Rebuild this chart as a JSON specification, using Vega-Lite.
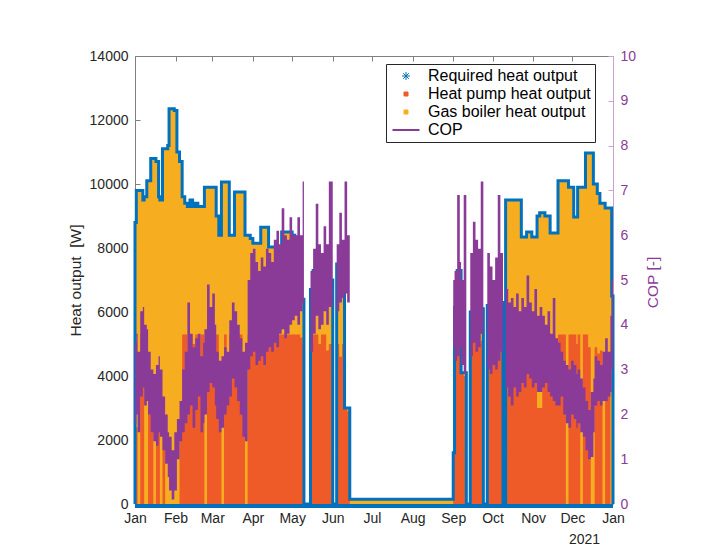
{
  "$schema": "https://vega.github.io/schema/vega-lite/v6.json",
  "width": 478,
  "height": 448,
  "autosize": {"type": "none"},
  "padding": {"left": 135, "top": 56, "right": 91, "bottom": 53},
  "background": "white",
  "config": {
    "view": {"stroke": "#808080", "strokeWidth": 1},
    "font": "Liberation Sans",
    "axis": {"grid": false, "labelFont": "Liberation Sans", "titleFont": "Liberation Sans", "labelFontSize": 14, "titleFontSize": 15.5, "titleFontWeight": "normal", "labelColor": "#262626", "titleColor": "#262626"},
    "axisX": {"labelOverlap": false, "labelFlush": false, "labelSeparation": 0}
  },
  "data": {"values": [
    {"d":"2021-01-01","r":0,"h":0,"lo":0,"hi":0},
    {"d":"2021-01-01","r":8800,"h":2400,"lo":1.8,"hi":3.6},
    {"d":"2021-01-02","r":9800,"h":2400,"lo":2.0,"hi":3.8},
    {"d":"2021-01-03","r":9800,"h":0,"lo":1.6,"hi":3.4},
    {"d":"2021-01-05","r":9800,"h":5300,"lo":2.4,"hi":4.3},
    {"d":"2021-01-07","r":9500,"h":5300,"lo":2.6,"hi":4.4},
    {"d":"2021-01-08","r":9600,"h":0,"lo":2.2,"hi":4.0},
    {"d":"2021-01-10","r":10100,"h":0,"lo":2.3,"hi":3.9},
    {"d":"2021-01-11","r":10100,"h":3000,"lo":2.0,"hi":3.4},
    {"d":"2021-01-13","r":10800,"h":3000,"lo":1.6,"hi":3.0},
    {"d":"2021-01-15","r":10800,"h":0,"lo":1.4,"hi":2.9},
    {"d":"2021-01-17","r":10700,"h":2400,"lo":1.3,"hi":3.1},
    {"d":"2021-01-19","r":9600,"h":2400,"lo":1.6,"hi":3.3},
    {"d":"2021-01-20","r":9500,"h":0,"lo":1.5,"hi":3.0},
    {"d":"2021-01-22","r":11100,"h":2300,"lo":1.2,"hi":2.4},
    {"d":"2021-01-24","r":11100,"h":0,"lo":0.9,"hi":2.0},
    {"d":"2021-01-26","r":11200,"h":0,"lo":0.6,"hi":1.6},
    {"d":"2021-01-27","r":12350,"h":0,"lo":0.3,"hi":1.5},
    {"d":"2021-01-29","r":12350,"h":0,"lo":0.1,"hi":1.2},
    {"d":"2021-01-31","r":12300,"h":0,"lo":0.3,"hi":1.6},
    {"d":"2021-02-02","r":11000,"h":0,"lo":1.0,"hi":1.9},
    {"d":"2021-02-04","r":10700,"h":2400,"lo":1.4,"hi":2.3},
    {"d":"2021-02-06","r":9600,"h":5300,"lo":1.6,"hi":3.0},
    {"d":"2021-02-08","r":9400,"h":5300,"lo":1.8,"hi":3.4},
    {"d":"2021-02-10","r":9300,"h":3500,"lo":2.0,"hi":4.5},
    {"d":"2021-02-12","r":9500,"h":5300,"lo":2.2,"hi":3.8},
    {"d":"2021-02-14","r":9300,"h":5000,"lo":1.7,"hi":3.5},
    {"d":"2021-02-16","r":9400,"h":5300,"lo":2.1,"hi":3.7},
    {"d":"2021-02-18","r":9300,"h":4500,"lo":2.4,"hi":3.8},
    {"d":"2021-02-20","r":9300,"h":5300,"lo":1.6,"hi":3.3},
    {"d":"2021-02-22","r":9300,"h":5300,"lo":1.8,"hi":3.6},
    {"d":"2021-02-23","r":9900,"h":0,"lo":2.0,"hi":3.9},
    {"d":"2021-02-25","r":9900,"h":5300,"lo":2.5,"hi":4.9},
    {"d":"2021-02-27","r":9900,"h":5300,"lo":2.7,"hi":4.4},
    {"d":"2021-03-01","r":9900,"h":5000,"lo":2.6,"hi":4.7},
    {"d":"2021-03-03","r":9900,"h":5300,"lo":2.2,"hi":4.0},
    {"d":"2021-03-04","r":9000,"h":5300,"lo":1.9,"hi":3.4},
    {"d":"2021-03-06","r":8400,"h":4000,"lo":1.6,"hi":3.2},
    {"d":"2021-03-08","r":10060,"h":0,"lo":1.7,"hi":3.3},
    {"d":"2021-03-10","r":10060,"h":5300,"lo":2.0,"hi":3.5},
    {"d":"2021-03-12","r":10060,"h":4700,"lo":2.2,"hi":3.4},
    {"d":"2021-03-14","r":8400,"h":5300,"lo":2.4,"hi":4.1},
    {"d":"2021-03-16","r":8400,"h":5300,"lo":2.8,"hi":4.5},
    {"d":"2021-03-18","r":9750,"h":5000,"lo":2.6,"hi":4.3},
    {"d":"2021-03-20","r":9750,"h":5300,"lo":2.3,"hi":4.0},
    {"d":"2021-03-22","r":9750,"h":5300,"lo":2.0,"hi":3.7},
    {"d":"2021-03-24","r":9750,"h":4400,"lo":1.5,"hi":3.4},
    {"d":"2021-03-26","r":8400,"h":0,"lo":1.4,"hi":3.6},
    {"d":"2021-03-28","r":8400,"h":5300,"lo":3.0,"hi":5.0},
    {"d":"2021-03-30","r":8300,"h":5300,"lo":3.3,"hi":5.6},
    {"d":"2021-04-01","r":8150,"h":5300,"lo":3.4,"hi":5.7},
    {"d":"2021-04-03","r":8150,"h":5300,"lo":3.1,"hi":5.4},
    {"d":"2021-04-05","r":8150,"h":5300,"lo":3.2,"hi":5.2},
    {"d":"2021-04-07","r":8650,"h":5300,"lo":3.3,"hi":5.5},
    {"d":"2021-04-09","r":8650,"h":5300,"lo":3.1,"hi":5.3},
    {"d":"2021-04-11","r":8650,"h":5300,"lo":3.4,"hi":5.7},
    {"d":"2021-04-13","r":8030,"h":5300,"lo":3.5,"hi":5.6},
    {"d":"2021-04-15","r":8030,"h":5300,"lo":3.4,"hi":5.4},
    {"d":"2021-04-17","r":8030,"h":5300,"lo":3.6,"hi":5.9},
    {"d":"2021-04-19","r":8030,"h":5300,"lo":3.5,"hi":6.1},
    {"d":"2021-04-21","r":8030,"h":5300,"lo":3.8,"hi":5.8},
    {"d":"2021-04-23","r":8500,"h":5300,"lo":3.9,"hi":6.6},
    {"d":"2021-04-25","r":8500,"h":5300,"lo":3.7,"hi":6.0},
    {"d":"2021-04-27","r":8500,"h":5300,"lo":3.8,"hi":5.9},
    {"d":"2021-04-29","r":8500,"h":5300,"lo":4.0,"hi":6.4},
    {"d":"2021-05-01","r":8400,"h":5300,"lo":4.1,"hi":6.0},
    {"d":"2021-05-03","r":6400,"h":5300,"lo":4.2,"hi":6.0},
    {"d":"2021-05-05","r":6400,"h":5300,"lo":4.0,"hi":6.4},
    {"d":"2021-05-07","r":6400,"h":5200,"lo":4.3,"hi":6.0},
    {"d":"2021-05-09","r":6400,"h":5000,"lo":4.5,"hi":7.2},
    {"d":"2021-05-10","r":0,"h":0,"lo":0,"hi":0},
    {"d":"2021-05-15","r":6700,"h":5000,"lo":3.4,"hi":5.2},
    {"d":"2021-05-17","r":7300,"h":5300,"lo":3.8,"hi":5.7},
    {"d":"2021-05-19","r":7300,"h":5300,"lo":4.2,"hi":6.7},
    {"d":"2021-05-21","r":7000,"h":5000,"lo":3.9,"hi":5.8},
    {"d":"2021-05-23","r":7400,"h":5300,"lo":4.0,"hi":5.6},
    {"d":"2021-05-25","r":7500,"h":5300,"lo":4.3,"hi":6.2},
    {"d":"2021-05-27","r":7200,"h":4800,"lo":4.0,"hi":5.8},
    {"d":"2021-05-29","r":7000,"h":5000,"lo":4.4,"hi":7.2},
    {"d":"2021-06-01","r":0,"h":0,"lo":0,"hi":0},
    {"d":"2021-06-04","r":7500,"h":5000,"lo":4.3,"hi":5.8},
    {"d":"2021-06-06","r":7500,"h":4600,"lo":4.5,"hi":6.5},
    {"d":"2021-06-08","r":7500,"h":5000,"lo":4.6,"hi":5.9},
    {"d":"2021-06-10","r":3000,"h":3000,"lo":4.7,"hi":7.2},
    {"d":"2021-06-12","r":3000,"h":2900,"lo":4.5,"hi":6.0},
    {"d":"2021-06-14","r":150,"h":0,"lo":0,"hi":0},
    {"d":"2021-09-01","r":1600,"h":1600,"lo":3.5,"hi":5.0},
    {"d":"2021-09-02","r":6150,"h":5100,"lo":3.2,"hi":5.2},
    {"d":"2021-09-04","r":7300,"h":5300,"lo":3.3,"hi":6.9},
    {"d":"2021-09-06","r":7300,"h":5300,"lo":3.5,"hi":5.4},
    {"d":"2021-09-07","r":4100,"h":4100,"lo":3.1,"hi":5.0},
    {"d":"2021-09-09","r":4100,"h":4000,"lo":2.9,"hi":6.9},
    {"d":"2021-09-11","r":0,"h":0,"lo":0,"hi":0},
    {"d":"2021-09-14","r":6000,"h":5100,"lo":3.3,"hi":5.6},
    {"d":"2021-09-16","r":6000,"h":5200,"lo":3.6,"hi":6.3},
    {"d":"2021-09-18","r":6000,"h":5100,"lo":3.4,"hi":5.9},
    {"d":"2021-09-20","r":5900,"h":5000,"lo":3.5,"hi":5.7},
    {"d":"2021-09-22","r":6100,"h":5100,"lo":3.8,"hi":7.2},
    {"d":"2021-09-24","r":0,"h":0,"lo":0,"hi":0},
    {"d":"2021-09-27","r":6200,"h":5000,"lo":3.0,"hi":5.6},
    {"d":"2021-09-29","r":6300,"h":5200,"lo":2.9,"hi":5.3},
    {"d":"2021-10-01","r":6100,"h":4800,"lo":3.1,"hi":5.0},
    {"d":"2021-10-03","r":6200,"h":5100,"lo":3.0,"hi":5.5},
    {"d":"2021-10-05","r":6000,"h":5000,"lo":3.2,"hi":6.9},
    {"d":"2021-10-07","r":6300,"h":5200,"lo":3.4,"hi":5.6},
    {"d":"2021-10-09","r":0,"h":0,"lo":0,"hi":0},
    {"d":"2021-10-11","r":9500,"h":5300,"lo":2.6,"hi":4.8},
    {"d":"2021-10-13","r":9500,"h":5200,"lo":2.4,"hi":4.5},
    {"d":"2021-10-15","r":9500,"h":5300,"lo":2.2,"hi":4.6},
    {"d":"2021-10-17","r":9500,"h":5100,"lo":2.6,"hi":4.4},
    {"d":"2021-10-19","r":9500,"h":5300,"lo":2.4,"hi":4.7},
    {"d":"2021-10-21","r":9500,"h":5300,"lo":2.5,"hi":4.3},
    {"d":"2021-10-23","r":8340,"h":5200,"lo":2.7,"hi":4.6},
    {"d":"2021-10-25","r":8340,"h":5300,"lo":2.6,"hi":4.4},
    {"d":"2021-10-27","r":8500,"h":5300,"lo":2.9,"hi":5.1},
    {"d":"2021-10-29","r":8500,"h":5300,"lo":2.8,"hi":4.5},
    {"d":"2021-10-31","r":8340,"h":5200,"lo":2.6,"hi":4.3},
    {"d":"2021-11-02","r":8340,"h":5300,"lo":2.7,"hi":4.8},
    {"d":"2021-11-04","r":9000,"h":3000,"lo":2.5,"hi":4.2},
    {"d":"2021-11-06","r":9100,"h":3000,"lo":2.5,"hi":4.4},
    {"d":"2021-11-08","r":9100,"h":5300,"lo":2.6,"hi":4.2},
    {"d":"2021-11-10","r":9000,"h":5300,"lo":2.7,"hi":4.0},
    {"d":"2021-11-12","r":9000,"h":5200,"lo":2.5,"hi":4.3},
    {"d":"2021-11-14","r":8470,"h":5300,"lo":2.4,"hi":3.8},
    {"d":"2021-11-16","r":8470,"h":5300,"lo":2.3,"hi":4.6},
    {"d":"2021-11-18","r":8470,"h":5000,"lo":2.2,"hi":3.7},
    {"d":"2021-11-20","r":10100,"h":5300,"lo":2.2,"hi":3.6},
    {"d":"2021-11-22","r":10100,"h":5300,"lo":2.4,"hi":3.4},
    {"d":"2021-11-24","r":10100,"h":5300,"lo":2.0,"hi":3.2},
    {"d":"2021-11-26","r":10100,"h":0,"lo":1.8,"hi":3.1},
    {"d":"2021-11-28","r":9900,"h":5300,"lo":1.7,"hi":3.0},
    {"d":"2021-11-30","r":9900,"h":5300,"lo":2.0,"hi":3.2},
    {"d":"2021-12-02","r":8970,"h":5300,"lo":1.9,"hi":3.1},
    {"d":"2021-12-04","r":8970,"h":5000,"lo":1.7,"hi":2.9},
    {"d":"2021-12-05","r":9900,"h":5300,"lo":1.8,"hi":3.0},
    {"d":"2021-12-07","r":9900,"h":0,"lo":1.6,"hi":2.8},
    {"d":"2021-12-09","r":9900,"h":5300,"lo":1.5,"hi":2.6},
    {"d":"2021-12-11","r":10970,"h":5300,"lo":1.2,"hi":2.3},
    {"d":"2021-12-13","r":10970,"h":4900,"lo":1.0,"hi":2.1},
    {"d":"2021-12-15","r":10970,"h":0,"lo":1.05,"hi":2.5},
    {"d":"2021-12-17","r":10000,"h":0,"lo":1.6,"hi":2.8},
    {"d":"2021-12-18","r":10000,"h":4900,"lo":2.2,"hi":3.3},
    {"d":"2021-12-20","r":9700,"h":4700,"lo":2.3,"hi":3.2},
    {"d":"2021-12-22","r":9400,"h":4800,"lo":2.2,"hi":3.1},
    {"d":"2021-12-24","r":9400,"h":0,"lo":2.3,"hi":3.4},
    {"d":"2021-12-26","r":9250,"h":4700,"lo":2.3,"hi":3.7},
    {"d":"2021-12-28","r":9250,"h":4700,"lo":2.4,"hi":3.4},
    {"d":"2021-12-30","r":9250,"h":0,"lo":2.5,"hi":4.2},
    {"d":"2021-12-31","r":6500,"h":0,"lo":3.0,"hi":5.0},
    {"d":"2022-01-01","r":0,"h":0,"lo":0,"hi":0}
  ]},
  "resolve": {"scale": {"y": "independent"}, "axis": {"x": "independent"}},
  "layer": [
    {
      "encoding": {
        "x": {"field": "d", "type": "temporal",
          "scale": {"type": "utc", "domain": [{"year": 2021, "month": 1, "date": 1, "utc": true}, {"year": 2022, "month": 1, "date": 1, "utc": true}], "nice": false},
          "axis": {"format": "%b",
            "values": [{"year": 2021, "month": 1, "date": 1, "utc": true}, {"year": 2021, "month": 2, "date": 1, "utc": true}, {"year": 2021, "month": 3, "date": 1, "utc": true}, {"year": 2021, "month": 4, "date": 1, "utc": true}, {"year": 2021, "month": 5, "date": 1, "utc": true}, {"year": 2021, "month": 6, "date": 1, "utc": true}, {"year": 2021, "month": 7, "date": 1, "utc": true}, {"year": 2021, "month": 8, "date": 1, "utc": true}, {"year": 2021, "month": 9, "date": 1, "utc": true}, {"year": 2021, "month": 10, "date": 1, "utc": true}, {"year": 2021, "month": 11, "date": 1, "utc": true}, {"year": 2021, "month": 12, "date": 1, "utc": true}, {"year": 2022, "month": 1, "date": 1, "utc": true}],
            "labelFlush": false, "labelOverlap": false, "tickSize": -5, "labelPadding": 12, "domainColor": "#808080", "tickColor": "#808080", "title": "2021", "titleX": 449, "titleY": 35, "titleAlign": "center", "titleBaseline": "middle", "titleFontSize": 14}}
      },
      "layer": [
        {
          "mark": {"type": "area", "interpolate": "step-after"},
          "encoding": {
            "y": {"field": "r", "type": "quantitative", "stack": null, "scale": {"domain": [0, 14000], "nice": false},
              "axis": {"title": "Heat output\u00a0 [W]", "values": [0, 2000, 4000, 6000, 8000, 10000, 12000, 14000], "format": "d", "tickSize": -5, "labelPadding": 12, "domainColor": "#808080", "tickColor": "#808080", "titleX": -60, "titleY": 224, "titleAngle": -90, "titleAlign": "center", "titleBaseline": "middle"}},
            "color": {"datum": "Gas boiler heat output",
              "scale": {"domain": ["Required heat output", "Heat pump heat output", "Gas boiler heat output", "COP"], "range": ["#0072BD", "#EE5A28", "#F7AD20", "#8A3B98"]},
              "legend": {"title": null, "orient": "none", "legendX": 251, "legendY": 8, "direction": "vertical",
                "labelFont": "Liberation Sans", "labelFontSize": 16, "labelColor": "#000000", "labelLimit": 300,
                "symbolSize": 256, "symbolOffset": 8, "labelOffset": 14, "padding": 4, "rowPadding": 2,
                "fillColor": "white", "strokeColor": "#262626",
                "encoding": {"symbols": {
                  "shape": {"value": {"expr": "datum.value === 'COP' ? 'stroke' : datum.value === 'Required heat output' ? 'M-1,0L1,0M0,-1L0,1M-0.7,-0.7L0.7,0.7M-0.7,0.7L0.7,-0.7' : 'square'"}},
                  "size": {"value": {"expr": "datum.value === 'COP' ? 729 : datum.value === 'Required heat output' ? 64 : 16"}},
                  "fill": {"value": {"expr": "datum.value === 'Heat pump heat output' ? '#EE5A28' : datum.value === 'Gas boiler heat output' ? '#F7AD20' : 'transparent'"}},
                  "stroke": {"value": {"expr": "datum.value === 'COP' ? '#8A3B98' : datum.value === 'Required heat output' ? '#0072BD' : 'transparent'"}},
                  "strokeWidth": {"value": {"expr": "datum.value === 'COP' ? 2 : 1"}},
                  "opacity": {"value": 1}
                }}}}
          }
        },
        {
          "mark": {"type": "area", "interpolate": "step-after"},
          "encoding": {
            "y": {"field": "h", "type": "quantitative", "stack": null},
            "color": {"datum": "Heat pump heat output"}
          }
        },
        {
          "mark": {"type": "line", "interpolate": "step-after", "strokeWidth": 3},
          "encoding": {
            "y": {"field": "r", "type": "quantitative"},
            "color": {"datum": "Required heat output"}
          }
        }
      ]
    },
    {
      "mark": {"type": "rule", "color": "#0072BD", "strokeWidth": 4, "yOffset": 2},
      "encoding": {"y": {"datum": 0, "scale": {"domain": [0, 14000], "nice": false}, "axis": null}}
    },
    {
      "mark": {"type": "area", "interpolate": "step-after"},
      "encoding": {
        "x": {"field": "d", "type": "temporal",
          "axis": {"orient": "top", "labels": false, "title": null,
            "values": [{"year": 2021, "month": 1, "date": 1, "utc": true}, {"year": 2021, "month": 2, "date": 1, "utc": true}, {"year": 2021, "month": 3, "date": 1, "utc": true}, {"year": 2021, "month": 4, "date": 1, "utc": true}, {"year": 2021, "month": 5, "date": 1, "utc": true}, {"year": 2021, "month": 6, "date": 1, "utc": true}, {"year": 2021, "month": 7, "date": 1, "utc": true}, {"year": 2021, "month": 8, "date": 1, "utc": true}, {"year": 2021, "month": 9, "date": 1, "utc": true}, {"year": 2021, "month": 10, "date": 1, "utc": true}, {"year": 2021, "month": 11, "date": 1, "utc": true}, {"year": 2021, "month": 12, "date": 1, "utc": true}, {"year": 2022, "month": 1, "date": 1, "utc": true}],
            "tickSize": -5, "domainColor": "#808080", "tickColor": "#808080"}},
        "y": {"field": "hi", "type": "quantitative", "stack": null, "scale": {"domain": [0, 10], "nice": false},
          "axis": {"orient": "right", "title": "COP [-]", "values": [0, 1, 2, 3, 4, 5, 6, 7, 8, 9, 10], "tickSize": -5, "labelPadding": 12, "domainColor": "#C9A3D0", "tickColor": "#C9A3D0", "labelColor": "#8A3B98", "titleColor": "#8A3B98", "titleAngle": -90, "titleX": 39, "titleY": 226, "titleAlign": "center", "titleBaseline": "middle"}},
        "y2": {"field": "lo"},
        "color": {"datum": "COP"}
      }
    }
  ]
}
